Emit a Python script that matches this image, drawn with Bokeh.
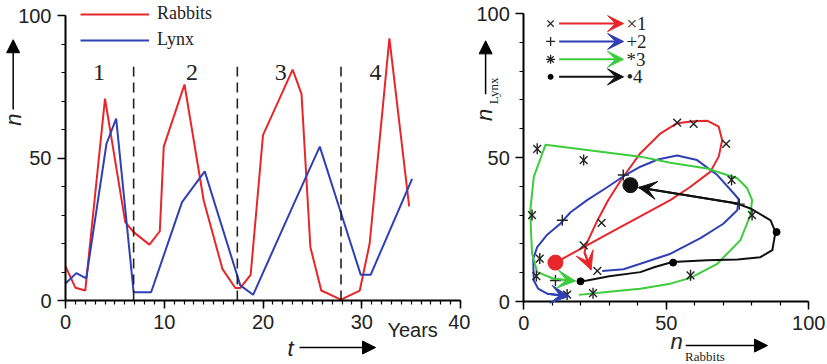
import numpy as np
from bokeh.plotting import figure
from bokeh.layouts import row
from bokeh.models import (Range1d, SingleIntervalTicker, Label, Arrow, NormalHead,
                          VeeHead, Legend, LegendItem)
from bokeh.core.properties import value
from bokeh.embed import file_html
from bokeh.resources import INLINE

# ---------------- data: time series ----------------
years_rabbits = [0, 1, 2, 4, 6.05, 6.9, 8.5, 9.55, 9.95, 12.05, 14, 15.9, 17.2, 17.7,
                 18.75, 20, 23, 23.9, 24.8, 25.9, 27.9, 29.8, 30.8, 32.8, 34.8]
rabbits = [12, 4.5, 3.5, 70.8, 27.5, 24, 19.6, 24.3, 54, 75.8, 35, 11, 4.4, 4.4,
           9, 58, 81, 72.5, 18.7, 3.5, 0.3, 3.5, 20, 92, 33]
years_lynx = [0, 1.1, 2.1, 4.15, 5.13, 6.9, 8.67, 11.8, 14.1, 17.7, 19, 23.2, 25.75,
              29.9, 30.9, 35.1]
lynx = [6, 9.6, 7.8, 55, 63.8, 2.9, 2.9, 34.5, 45.3, 5.3, 2, 34.5, 54, 9, 9, 42.7]
cycle_bounds = [6.9, 17.4, 27.9]
cycle_top = 82
cycle_names = ["1", "2", "3", "4"]
cycle_label_t = [3.4, 12.8, 21.8, 31.4]
cycle_label_n = 80

# ---------------- data: phase space ----------------
c1_x = [11.1, 30, 51.4, 58, 65.4, 68.4, 69.6, 68.4, 64.3, 59.6, 53.8, 48, 40.9, 34,
        29.5, 25.5, 22, 21.3, 23.6]
c1_y = [13.5, 23.7, 35.2, 39.5, 45, 50.3, 56, 60.7, 62.8, 62.6, 61.9, 58.4, 51.5, 42,
        35, 27.5, 20, 17, 11]
c2_x = [27.5, 35, 40.9, 51.5, 62, 70, 74.9, 75.4, 73.7, 67.9, 60.8, 53.8, 47, 40.9,
        35, 29, 22.2, 16.4, 12.9, 8, 4.7, 3.3, 3.5, 5, 8.2, 15.8]
c2_y = [10.6, 11.2, 13.1, 16.6, 22, 27, 31.7, 35.5, 37.5, 43.9, 49.1, 50.7, 49.3, 46.8,
        43.5, 39.5, 35.2, 31, 27.1, 23, 18.9, 14.9, 7.3, 4.5, 2.7, 1.8]
c3_x = [19.3, 30, 40.9, 51.4, 58.5, 67.9, 76, 79.5, 80.1, 78.4, 74.9, 64.3, 51.4, 40.9,
        7.6, 3.5, 2.3, 2.5, 2.9, 4.7, 10.5, 18.1]
c3_y = [2.3, 3.4, 4.4, 6.2, 8.2, 13.1, 21.3, 30, 35.2, 39.3, 42.8, 46.2, 48.2, 50.3,
        54.4, 43.3, 31.7, 25, 16.6, 10.2, 7.9, 7.1]
c4_x = [19.9, 22.2, 30, 40.9, 46, 52.1, 64.3, 75, 83, 87.2, 88.3, 86.6, 79.5, 74.9, 40.3]
c4_y = [7, 7.3, 8.8, 10.2, 12, 13.7, 14.3, 14.6, 15.4, 17.8, 24.1, 28.2, 32.3, 34, 39.6]

m1_x = [53.8, 59.6, 71, 27.3, 21, 25.8]            # x markers (cycle 1)
m1_y = [62.1, 61.7, 54.7, 27.3, 19.5, 10.6]
m2_x = [34.9, 75.6, 13.5, 11.1]                     # + markers (cycle 2)
m2_y = [43.9, 33.8, 28.2, 7.3]
m3_x = [72.9, 80.1, 58.5, 24.3, 15.2, 4.7, 21, 2.9, 5.6, 4.4]   # * markers (cycle 3)
m3_y = [42.2, 30, 9.1, 2.9, 2.4, 53, 49.1, 30, 14.9, 8.8]
m4_x = [19.9, 52.4, 88.7]                           # dot markers (cycle 4)
m4_y = [7, 13.5, 24.1]
big_x = [11.1, 37.4]
big_y = [13.5, 40.4]

legend_names = ["\u00d71", "+2", "*3", "\u20224"]

RED = "#e8262a"
BLUE = "#2f3fb4"
GREEN = "#3ccc3c"
BLACK = "#111111"
cycle_colors = [RED, BLUE, GREEN, BLACK]

TICK_FONT = "Liberation Sans"
SERIF = "Liberation Serif"
TXT = "#222222"


def style_axes(p, xb, yb):
    p.xaxis.fixed_location = 0
    p.yaxis.fixed_location = 0
    p.xaxis.bounds = xb
    p.yaxis.bounds = yb
    for ax in (p.xaxis[0], p.yaxis[0]):
        ax.axis_line_width = 2
        ax.axis_line_color = "black"
        ax.major_tick_line_width = 1.5
        ax.minor_tick_line_width = 1.2
        ax.major_tick_line_color = "black"
        ax.minor_tick_line_color = "black"
        ax.major_tick_out = 8
        ax.major_tick_in = 0
        ax.minor_tick_out = 4
        ax.minor_tick_in = 0
        ax.major_label_text_font = TICK_FONT
        ax.major_label_text_font_size = "20px"
        ax.major_label_text_color = TXT
        ax.major_label_standoff = 6
    p.grid.visible = False
    p.outline_line_color = None
    p.background_fill_color = "white"
    p.border_fill_color = "white"


# ================= left: time series =================
# canvas 470x364: t=0 at px 65, 9.875 px/yr; n=0 at py 300, 2.85 px/unit
p1 = figure(width=470, height=364, output_backend="svg", toolbar_location=None,
            x_range=Range1d(-65 / 9.875, 405 / 9.875),
            y_range=Range1d(-64 / 2.85, 300 / 2.85),
            min_border=0)
p1.xaxis.ticker = SingleIntervalTicker(interval=10, num_minor_ticks=10)
p1.yaxis.ticker = SingleIntervalTicker(interval=50, num_minor_ticks=5)
style_axes(p1, (0, 40), (0, 100))

r_rab = p1.line(years_rabbits, rabbits, line_color=RED, line_width=2)
r_lyn = p1.line(years_lynx, lynx, line_color=BLUE, line_width=2)
p1.segment(x0=cycle_bounds, y0=[0] * len(cycle_bounds), x1=cycle_bounds,
           y1=[cycle_top] * len(cycle_bounds), line_color=TXT, line_width=1.6,
           line_dash="10 6")
p1.text(x=cycle_label_t, y=[cycle_label_n] * 4, text=cycle_names,
        text_font=value(SERIF), text_font_size="24px", text_align="center",
        text_baseline="middle", text_color=TXT)

leg = Legend(items=[LegendItem(label="Rabbits", renderers=[r_rab]),
                    LegendItem(label="Lynx", renderers=[r_lyn])],
             location=(80, 314), glyph_width=69, glyph_height=20, label_height=20,
             spacing=5, padding=0, margin=0, label_standoff=8,
             label_text_font=SERIF, label_text_font_size="18px",
             label_text_color=TXT, border_line_color=None,
             background_fill_alpha=0)
p1.add_layout(leg)

# axis decorations
p1.add_layout(Label(x=-5.3, y=63.5, text="n", text_font=TICK_FONT,
                    text_font_style="italic", text_font_size="22px", angle=np.pi / 2,
                    text_align="center", text_baseline="middle", text_color=TXT))
p1.add_layout(Arrow(end=NormalHead(size=13, fill_color="black", line_color="black"),
                    x_start=-5.3, y_start=67, x_end=-5.3, y_end=91.5,
                    line_width=1.5, line_color="black"))
p1.add_layout(Label(x=22.8, y=-16.8, text="t", text_font=TICK_FONT,
                    text_font_style="italic", text_font_size="22px",
                    text_align="center", text_baseline="middle", text_color=TXT))
p1.add_layout(Arrow(end=NormalHead(size=13, fill_color="black", line_color="black"),
                    x_start=23.7, y_start=-16.5, x_end=31.4, y_end=-16.5,
                    line_width=1.5, line_color="black"))
p1.add_layout(Label(x=32.6, y=-10.5, text="Years", text_font=TICK_FONT,
                    text_font_size="20px", text_align="left", text_baseline="middle",
                    text_color=TXT))

# ================= right: phase space =================
# canvas 357x364 (starts at page x=470): X=0 at local px 53.3, 2.85 px/unit;
# Y=0 at py 301, 2.88 px/unit
p2 = figure(width=357, height=364, output_backend="svg", toolbar_location=None,
            x_range=Range1d(-53.3 / 2.85, (357 - 53.3) / 2.85),
            y_range=Range1d(-63 / 2.88, 301 / 2.88),
            min_border=0)
p2.xaxis.ticker = SingleIntervalTicker(interval=50, num_minor_ticks=5)
p2.yaxis.ticker = SingleIntervalTicker(interval=50, num_minor_ticks=5)
style_axes(p2, (0, 100), (0, 100))

for xs, ys, c in [(c1_x, c1_y, RED), (c2_x, c2_y, BLUE), (c3_x, c3_y, GREEN),
                  (c4_x, c4_y, BLACK)]:
    p2.line(xs, ys, line_color=c, line_width=2)
    p2.add_layout(Arrow(end=VeeHead(size=18, fill_color=c, line_color=c),
                        x_start=xs[-2], y_start=ys[-2], x_end=xs[-1], y_end=ys[-1],
                        line_color=c, line_width=2))

mk = dict(size=11, line_color=TXT, line_width=1.4)
p2.scatter(m1_x, m1_y, marker="x", **mk)
p2.scatter(m2_x, m2_y, marker="cross", **mk)
p2.scatter(m3_x, m3_y, marker="x", **mk)
p2.scatter(m3_x, m3_y, marker="dash", angle=np.pi / 2, **mk)
p2.scatter(m4_x, m4_y, marker="circle", size=7, fill_color="black", line_color="black")
p2.scatter(big_x, big_y, marker="circle", size=15, fill_color=[RED, BLACK],
           line_color=[RED, BLACK])

# legend of cycles (arrow keys)
leg_y = [96.5, 90.3, 84.1, 78.0]
leg_x0, leg_x1, leg_x2, leg_xt = 9.4, 12.4, 35.0, 36.0
start_markers = ["x", "cross", "asterisk", "circle"]
for i in range(4):
    c = cycle_colors[i]
    if start_markers[i] == "circle":
        p2.scatter([leg_x0], [leg_y[i]], marker="circle", size=5, fill_color="black",
                   line_color="black")
    else:
        p2.scatter([leg_x0], [leg_y[i]], marker=start_markers[i], size=9,
                   line_color=TXT, line_width=1.3)
    p2.add_layout(Arrow(end=VeeHead(size=16, fill_color=c, line_color=c),
                        x_start=leg_x1, y_start=leg_y[i], x_end=leg_x2, y_end=leg_y[i],
                        line_color=c, line_width=2))
p2.text(x=[leg_xt] * 4, y=leg_y, text=legend_names, text_font=value(SERIF),
        text_font_size="19px", text_align="left", text_baseline="middle",
        text_color=TXT)

# axis decorations
p2.add_layout(Label(x=53.6, y=-14.0, text="n", text_font=TICK_FONT,
                    text_font_style="italic", text_font_size="22px",
                    text_align="center", text_baseline="middle", text_color=TXT))
p2.add_layout(Label(x=56.6, y=-19.2, text="Rabbits", text_font=SERIF,
                    text_font_size="13px", text_align="left", text_baseline="middle",
                    text_color=TXT))
p2.add_layout(Arrow(end=NormalHead(size=13, fill_color="black", line_color="black"),
                    x_start=56.8, y_start=-15.3, x_end=85.5, y_end=-15.3,
                    line_width=1.5, line_color="black"))
p2.add_layout(Label(x=-13.8, y=64.8, text="n", text_font=TICK_FONT,
                    text_font_style="italic", text_font_size="22px", angle=np.pi / 2,
                    text_align="center", text_baseline="middle", text_color=TXT))
p2.add_layout(Label(x=-10.6, y=68.5, text="Lynx", text_font=SERIF,
                    text_font_size="13px", angle=np.pi / 2, text_align="left",
                    text_baseline="middle", text_color=TXT))
p2.add_layout(Arrow(end=NormalHead(size=13, fill_color="black", line_color="black"),
                    x_start=-13.4, y_start=72, x_end=-13.4, y_end=90.5,
                    line_width=1.5, line_color="black"))

layout = row(p1, p2)
open("out.html", "w").write(file_html(layout, INLINE))
